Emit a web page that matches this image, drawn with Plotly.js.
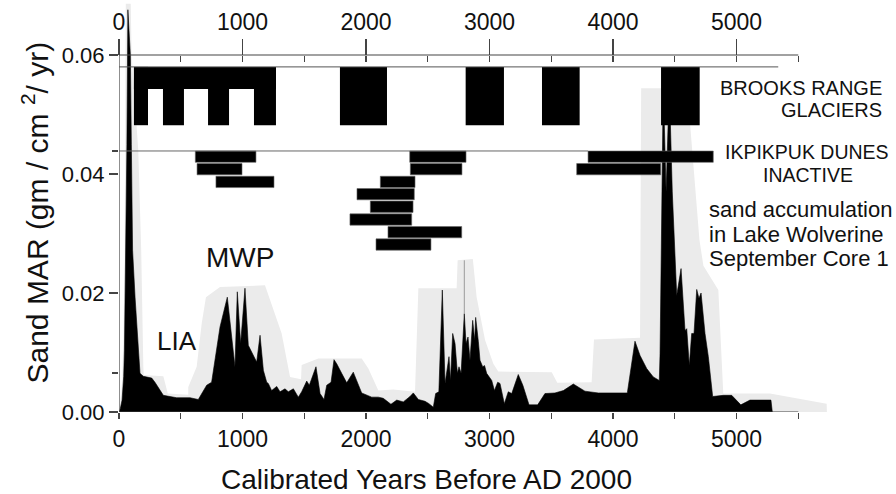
<!DOCTYPE html>
<html>
<head>
<meta charset="utf-8">
<script src="https://cdn.plot.ly/plotly-3.0.1.min.js"></script>
<style>html,body{margin:0;padding:0;background:#fff;}#chart{width:896px;height:494px;}</style>
</head>
<body>
<div id="chart"></div>
<script>
// ---- Sand mass accumulation rate (black area) ----
const sandYears = [
  0,10,25,38,44,50,58,64,72,92,100,110,130,157,170,
  197,265,291,359,467,575,642,710,750,818,877,939,958,985,1020,1047,1115,1142,1169,1196,
  1209,1236,1277,1304,1344,1371,1412,1452,1479,1520,1541,1595,1628,1660,1682,1717,1741,1763,1803,1844,
  1897,1965,2046,2100,2140,2202,2249,2302,2356,2383,2424,2478,2510,2545,2564,2590,
  2618,2640,2672,2684,2702,2721,2740,2753,2770,2796,2810,2826,2842,2864,2880,2888,2910,2923,2945,2960,
  2977,3000,3018,3040,3066,3085,3120,3152,3180,3233,3270,3320,3390,3449,3530,3598,3679,3773,3881,4116,
  4146,4178,4219,4273,4326,4375,4381,4396,4407,4430,4456,4480,4494,4516,4551,4583,4597,4618,4637,4656,
  4678,4696,4713,4745,4772,4807,4893,4961,5035,5109,5279,5290
];
const sandMAR = [
  0,0.0005,0.002,0.006,0.0104,0.0193,0.0272,0.045,0.0676,0.06,0.045,0.0272,0.0193,0.0104,0.0065,
  0.0060,0.0057,0.0050,0.0028,0.0024,0.0024,0.0021,0.0045,0.0050,0.0143,0.0193,0.0076,0.0202,0.0115,0.0208,0.0112,0.0084,0.0129,0.0070,0.0050,
  0.0048,0.0036,0.0043,0.0034,0.0039,0.0034,0.0039,0.0025,0.0034,0.0052,0.0045,0.0076,0.0031,0.0021,0.0045,0.0050,0.0088,0.0081,0.0065,0.0049,
  0.0067,0.0032,0.0025,0.0025,0.0023,0.0013,0.0020,0.0017,0.0026,0.0032,0.0021,0.0018,0.0014,0.0008,0.0031,0.0034,
  0.0205,0.0048,0.0093,0.0053,0.0132,0.0115,0.0065,0.0076,0.0065,0.0165,0.0115,0.0126,0.0087,0.0154,0.0120,0.0159,0.0118,0.0087,0.0076,0.0078,
  0.0065,0.0059,0.0053,0.0036,0.0050,0.0048,0.0014,0.0034,0.0031,0.0063,0.0045,0.0012,0.0012,0.0031,0.0032,0.0036,0.0047,0.0035,0.0032,0.0032,
  0.0076,0.0119,0.0095,0.0073,0.0059,0.0053,0.0098,0.037,0.055,0.037,0.055,0.037,0.029,0.0196,0.0241,0.0137,0.0140,0.0078,0.0132,0.0132,
  0.0206,0.0191,0.0200,0.0132,0.0093,0.0026,0.0028,0.0028,0.0012,0.0020,0.0020,0
];

// ---- Uncertainty envelope (light grey area) ----
const envYears = [
  0,8,25,35,45,50,55,95,102,156,180,197,200,359,395,561,561,629,670,704,
  818,1182,1317,1385,1474,1479,1614,1965,2019,2100,2221,2397,2424,2734,2742,2865,2896,2964,3031,3071,
  3504,3549,3827,3846,4219,4228,4612,4625,4700,4732,4853,4893,5271,5730,5732
];
const envMAR = [
  0,0.001,0.005,0.012,0.025,0.045,0.0686,0.0686,0.06,0.044,0.027,0.0076,0.0062,0.0060,0.0031,0.0029,0.0042,0.0076,0.0149,0.0193,
  0.0210,0.0213,0.0132,0.0059,0.0055,0.0079,0.0090,0.0090,0.0073,0.0036,0.0038,0.0034,0.0208,0.0208,0.0255,0.0257,0.0193,0.0121,0.0081,0.0068,
  0.0067,0.0049,0.0050,0.0122,0.0125,0.0544,0.0544,0.0482,0.0289,0.0246,0.0205,0.0031,0.0031,0.0014,0
];
const envLineYears = [2796, 2796];
const envLineMAR = [0.0165, 0.0255];

// ---- Brooks Range glacier advances (black blocks) ----
const glacierStart  = [121, 121, 356, 721, 1093, 1789, 2807, 3425, 4389];
const glacierEnd    = [1271, 235, 526, 891, 1271, 2170, 3117, 3730, 4702];
const glacierBottom = [0.0543, 0.0482, 0.0482, 0.0482, 0.0482, 0.0482, 0.0482, 0.0482, 0.0482];
const glacierTop    = [0.058, 0.058, 0.058, 0.058, 0.058, 0.058, 0.058, 0.058, 0.058];

// ---- Ikpikpuk dunes inactive (horizontal bars) ----
const duneStart = [618, 632, 785, 2354, 2359, 2116, 1927, 2035, 1870, 2178, 2081, 3798, 3706];
const duneEnd   = [1109, 996, 1255, 2810, 2777, 2397, 2391, 2381, 2370, 2775, 2526, 4812, 4386];
const duneLevel = [0.04291, 0.04081, 0.03867, 0.04291, 0.04081, 0.03867, 0.03661, 0.03450, 0.03235, 0.03022, 0.02815, 0.04291, 0.04081];
const duneThickness = 0.0019;

// ---- reference lines ----
const glacierLineY = 0.058, glacierLineEnd = 5338;
const duneLineY = 0.04387, duneLineEnd = 3798;

// ---- axes ----
const xRange = [0, 5797.6];
const yRange = [0, 0.069244];
const xAxisEnd = 5500;
const yAxisTop = 0.06;
const majorTickVals = [0,1000,2000,3000,4000,5000];
const majorTickText = ['0','1000','2000','3000','4000','5000'];
const halfTickVals = [500,1500,2500,3500,4500,5500];
const allTickVals = [0,500,1000,1500,2000,2500,3000,3500,4000,4500,5000,5500];
const yTickVals = [0, 0.02, 0.04, 0.06];
const yTickText = ['0.00','0.02','0.04','0.06'];
const yMinorVals = [0.00655, 0.04387];

const FONT = 'Liberation Sans, Arial, Helvetica, sans-serif';

const traces = [
  {x: envYears, y: envMAR, type:'scatter', mode:'lines', fill:'tozeroy',
   fillcolor:'#ebebeb', line:{width:0, color:'#ebebeb'}, hoverinfo:'skip'},
  {x: envLineYears, y: envLineMAR, type:'scatter', mode:'lines',
   line:{width:1, color:'#9a9a9a'}, hoverinfo:'skip'},
  {x: sandYears, y: sandMAR, type:'scatter', mode:'lines', fill:'tozeroy',
   fillcolor:'#000', line:{width:0.6, color:'#000'}, hoverinfo:'skip'},
  {type:'bar', xaxis:'x2', yaxis:'y',
   x: glacierStart.map((s,i)=>(s+glacierEnd[i])/2),
   width: glacierStart.map((s,i)=>glacierEnd[i]-s),
   base: glacierBottom,
   y: glacierTop.map((t,i)=>t-glacierBottom[i]),
   marker:{color:'#000', line:{width:0}}, hoverinfo:'skip'},
  {type:'bar', orientation:'h', xaxis:'x3', yaxis:'y',
   y: duneLevel,
   x: duneStart.map((s,i)=>duneEnd[i]-s),
   base: duneStart,
   width: duneLevel.map(()=>duneThickness),
   marker:{color:'#000', line:{width:0.6, color:'#666'}}, hoverinfo:'skip'}
];

const topPosPaper = yAxisTop / yRange[1];

const axisLineStyle = {color:'#444', width:1.2};
const shapes = [
  {type:'line', xref:'x', yref:'y', x0:0, x1:xAxisEnd, y0:0, y1:0, line:axisLineStyle},
  {type:'line', xref:'x', yref:'y', x0:0, x1:xAxisEnd, y0:yAxisTop, y1:yAxisTop, line:axisLineStyle},
  {type:'line', xref:'x', yref:'y', x0:0, x1:0, y0:0, y1:yAxisTop, line:axisLineStyle},
  {type:'line', xref:'x', yref:'y', x0:0, x1:glacierLineEnd, y0:glacierLineY, y1:glacierLineY, line:{color:'#555', width:1}},
  {type:'line', xref:'x', yref:'y', x0:0, x1:duneLineEnd, y0:duneLineY, y1:duneLineY, line:{color:'#666', width:1}}
];

function ann(text, x, y, size, xanchor, angle){
  const a = {text:text, xref:'paper', yref:'paper', x:x, y:y, xanchor:xanchor||'center', yanchor:'middle',
          showarrow:false, font:{family:FONT, size:size, color:'#111'}};
  if (angle) a.textangle = angle;
  return a;
}
const annotations = [
  ann('BROOKS RANGE', 1.0684, 0.7864, 20, 'right'),
  ann('GLACIERS', 1.0684, 0.7330, 20, 'right'),
  ann('IKPIKPUK DUNES', 0.9609, 0.6311, 19.5),
  ann('INACTIVE', 0.9623, 0.5752, 19.5),
  ann('sand accumulation', 0.8208, 0.4927, 22, 'left'),
  ann('in Lake Wolverine', 0.8208, 0.4308, 22, 'left'),
  ann('September Core 1', 0.8208, 0.3731, 22, 'left'),
  ann('MWP', 0.1690, 0.3762, 28),
  ann('LIA', 0.0817, 0.1723, 26),
  // axis titles
  ann('Calibrated Years Before AD 2000', 0.4288, -0.163, 28),
  ann('Sand MAR (gm / cm <sup>2</sup>/ yr)', -0.1173, 0.4842, 30, 'center', -90)
];

const common = {autorange:false, showline:false, zeroline:false, showgrid:false,
                tickcolor:'#444', tickwidth:1.2};

const layout = {
  width:896, height:494,
  margin:{l:119, r:61, t:0, b:82, pad:0},
  paper_bgcolor:'#fff', plot_bgcolor:'#fff',
  showlegend:false, barmode:'overlay',
  font:{family:FONT, color:'#111'},
  xaxis:Object.assign({}, common, {
    range:xRange, tickmode:'array', tickvals:majorTickVals, ticktext:majorTickText,
    ticks:'outside', ticklen:6, tickfont:{size:23, family:FONT},
    minor:{tickmode:'array', tickvals:halfTickVals, ticks:'outside', ticklen:6, tickcolor:'#444', tickwidth:1.2, showgrid:false}
  }),
  xaxis2:Object.assign({}, common, {
    overlaying:'x', anchor:'free', position:topPosPaper, side:'top',
    range:xRange, tickmode:'array', tickvals:majorTickVals, ticktext:majorTickText,
    ticks:'outside', ticklen:16, tickfont:{size:23, family:FONT}
  }),
  xaxis3:Object.assign({}, common, {
    overlaying:'x', anchor:'free', position:topPosPaper, side:'top',
    range:xRange, tickmode:'array', tickvals:allTickVals,
    ticks:'inside', ticklen:6, showticklabels:false
  }),
  yaxis:Object.assign({}, common, {
    range:yRange, tickmode:'array', tickvals:yTickVals, ticktext:yTickText,
    ticks:'outside', ticklen:9, tickfont:{size:22, family:FONT},
    minor:{tickmode:'array', tickvals:yMinorVals, ticks:'outside', ticklen:6, tickcolor:'#444', tickwidth:1.2, showgrid:false}
  }),
  shapes:shapes,
  annotations:annotations
};

Plotly.newPlot('chart', traces, layout, {displayModeBar:false, staticPlot:true});
</script>
</body>
</html>
